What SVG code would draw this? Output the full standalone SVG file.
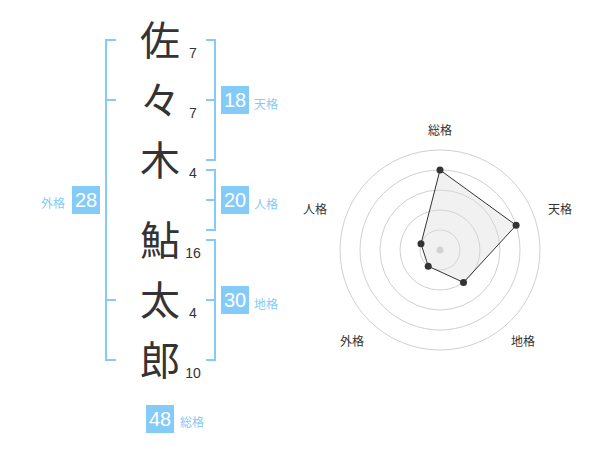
<svg xmlns="http://www.w3.org/2000/svg" width="600" height="470" viewBox="0 0 600 470">
<style>
.kanji{font-family:"Noto Sans CJK JP","Noto Sans CJK SC",sans-serif;font-size:40px;fill:#333;text-anchor:middle}
.stroke{font-family:"Liberation Sans","Noto Sans CJK JP",sans-serif;font-size:14px;fill:#333;text-anchor:middle}
.br{fill:none;stroke:#84cbf8;stroke-width:2}
.box{fill:#84cbf8}
.num{font-family:"Liberation Sans","Noto Sans CJK JP",sans-serif;font-size:20px;fill:#fff;text-anchor:middle}
.lab{font-family:"Noto Sans CJK JP","Noto Sans CJK SC",sans-serif;font-size:12px;fill:#84cbf8}
.rl{font-family:"Noto Sans CJK JP","Noto Sans CJK SC",sans-serif;font-size:12px;fill:#333;text-anchor:middle}
.ring{fill:none;stroke:#d0d0d0;stroke-width:1}
.pt{fill:#333}
</style>
<rect width="600" height="470" fill="#fff"/>
<g id="chars">
<text class="kanji" x="160" y="55">佐</text>
<text class="kanji" x="160" y="115">々</text>
<text class="kanji" x="160" y="175">木</text>
<text class="kanji" x="160" y="255">鮎</text>
<text class="kanji" x="160" y="315">太</text>
<text class="kanji" x="160" y="375">郎</text>
<text class="stroke" x="193" y="58">7</text>
<text class="stroke" x="193" y="118">7</text>
<text class="stroke" x="193" y="178">4</text>
<text class="stroke" x="193" y="258">16</text>
<text class="stroke" x="193" y="318">4</text>
<text class="stroke" x="193" y="378">10</text>
</g>
<g id="connectors">
<path class="br" d="M116,40 H106 V360 H116 M106,100 H116 M106,300 H116"/>
<path class="br" d="M206,40 H215 V160 H206 M215,100 H206"/>
<path class="br" d="M206,170 H215 V230 H206 M215,200 H206"/>
<path class="br" d="M206,240 H215 V360 H206 M215,300 H206"/>
</g>
<g id="tenkaku">
<rect class="box" x="221" y="86" width="28" height="28"/>
<text class="num" x="235" y="107">18</text>
<text class="lab" x="254" y="109">天格</text>
</g>
<g id="jinkaku">
<rect class="box" x="221" y="186" width="28" height="28"/>
<text class="num" x="235" y="207">20</text>
<text class="lab" x="254" y="209">人格</text>
</g>
<g id="chikaku">
<rect class="box" x="221" y="286" width="28" height="28"/>
<text class="num" x="235" y="307">30</text>
<text class="lab" x="254" y="309">地格</text>
</g>
<g id="gaikaku">
<rect class="box" x="72" y="186" width="28" height="28"/>
<text class="num" x="86" y="207">28</text>
<text class="lab" x="41" y="208">外格</text>
</g>
<g id="soukaku">
<rect class="box" x="146" y="405" width="28" height="28"/>
<text class="num" x="160" y="426">48</text>
<text class="lab" x="180" y="427">総格</text>
</g>
<g id="radar">
<circle class="ring" cx="440" cy="250" r="20"/>
<circle class="ring" cx="440" cy="250" r="40"/>
<circle class="ring" cx="440" cy="250" r="60"/>
<circle class="ring" cx="440" cy="250" r="80"/>
<circle class="ring" cx="440" cy="250" r="100"/>
<circle cx="440" cy="250" r="3.5" fill="#ccc"/>
<polygon points="440,170 516.1,225.3 463.5,282.4 428.2,266.2 421,243.8" fill="#dcdcdc" fill-opacity="0.4" stroke="#333" stroke-width="1"/>
<circle class="pt" cx="440" cy="170" r="3.5"/>
<circle class="pt" cx="516.1" cy="225.3" r="3.5"/>
<circle class="pt" cx="463.5" cy="282.4" r="3.5"/>
<circle class="pt" cx="428.2" cy="266.2" r="3.5"/>
<circle class="pt" cx="421" cy="243.8" r="3.5"/>
<text class="rl" x="440" y="134.5">総格</text>
<text class="rl" x="560" y="213.5">天格</text>
<text class="rl" x="523" y="345.5">地格</text>
<text class="rl" x="352" y="345.5">外格</text>
<text class="rl" x="315" y="213.5">人格</text>
</g>
</svg>
